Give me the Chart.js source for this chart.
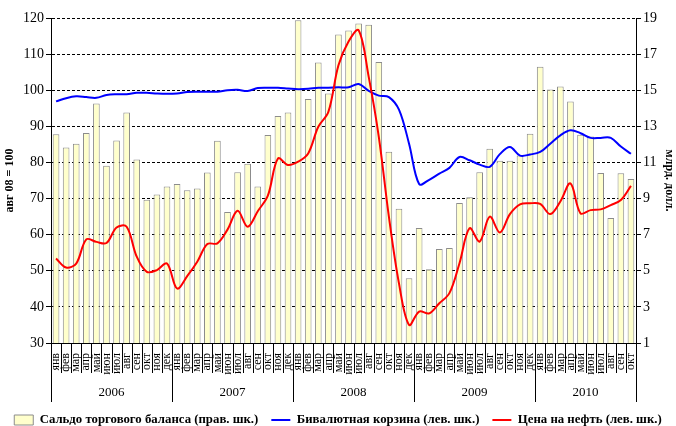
<!DOCTYPE html>
<html>
<head>
<meta charset="utf-8">
<script src="https://cdn.jsdelivr.net/npm/chart.js@4"></script>
<style>
  html, body { margin: 0; padding: 0; background: #fff; }
</style>
</head>
<body>
<div style="width:676px;height:426px"><canvas id="Chart" width="676" height="426"></canvas></div>
<script>
const months = ["янв","фев","мар","апр","май","июн","июл","авг","сен","окт","ноя","дек"];
const years = ["2006","2007","2008","2009","2010"];

// trade balance, bln USD (right scale)
const balance = [12.56, 11.83, 12.04, 12.63, 14.26, 10.82, 12.22, 13.76, 11.17, 8.94, 9.22, 9.67,
  9.81, 9.46, 9.56, 10.44, 12.2, 8.26, 10.46, 10.93, 9.67, 12.52, 13.57, 13.76,
  18.87, 14.52, 16.54, 14.82, 18.09, 18.31, 18.7, 18.63, 16.57, 11.59, 8.44, 4.59,
  7.37, 5.09, 6.2, 6.26, 8.76, 9.07, 10.46, 11.76, 11.1, 11.1, 11.39, 12.59,
  16.3, 15.04, 15.2, 14.37, 12.54, 12.44, 10.41, 7.93, 10.4, 10.09];

// dual-currency basket, aug 08 = 100 (left scale)
const basket = [96.9, 97.8, 98.3, 98.1, 97.9, 98.7, 98.9, 98.9, 99.3, 99.3, 99.1, 99.0,
  99.1, 99.5, 99.6, 99.6, 99.6, 100.0, 100.1, 99.8, 100.6, 100.7, 100.7, 100.5,
  100.3, 100.4, 100.7, 100.7, 100.8, 100.8, 101.7, 99.8, 98.5, 98.1, 94.6, 85.2,
  74.0, 75.2, 76.9, 78.5, 81.5, 80.6, 79.4, 78.8, 82.3, 84.3, 81.9, 82.2,
  82.9, 85.2, 87.5, 88.9, 88.1, 86.8, 86.8, 86.8, 84.4, 82.4];

// oil price, aug 08 = 100 (left scale)
const oil = [53.4, 50.9, 52.0, 58.7, 58.0, 57.7, 62.0, 62.2, 53.9, 49.7, 50.2, 52.0,
  45.1, 48.5, 52.5, 57.4, 57.6, 61.4, 66.6, 62.2, 66.5, 70.8, 81.1, 79.3,
  80.2, 82.5, 89.9, 94.0, 106.9, 113.5, 116.6, 103.7, 87.1, 65.0, 46.5, 35.0,
  38.7, 38.2, 41.0, 43.8, 52.1, 61.8, 58.1, 65.0, 60.6, 65.7, 68.4, 68.7,
  68.5, 65.7, 69.2, 74.2, 65.9, 66.8, 67.0, 68.2, 69.6, 73.5];

const leftMin = 30, leftMax = 120, leftStep = 10;
const rightMin = 1, rightMax = 19, rightStep = 2;

const labels = balance.map((v, i) => months[i % 12]);

const serif = "'Liberation Serif', 'Times New Roman', serif";

// month / year separators under the x axis
const yearRows = {
  id: "yearRows",
  afterDraw(chart) {
    const x = chart.scales.x, ctx = chart.ctx;
    const n = labels.length, w = x.width / n, top = x.top;
    ctx.save();
    ctx.strokeStyle = "#000";
    ctx.lineWidth = 1;
    for (let j = 0; j <= n; j++) {
      const px = Math.round(x.left + j * w) + 0.5;
      const len = (j % 12 === 0 || j === n) ? 59 : 30;
      ctx.beginPath();
      ctx.moveTo(px, top);
      ctx.lineTo(px, top + len);
      ctx.stroke();
    }
    ctx.fillStyle = "#000";
    ctx.font = "13px " + serif;
    ctx.textAlign = "center";
    ctx.textBaseline = "middle";
    years.forEach((yr, k) => {
      const a = k * 12, b = Math.min(n, a + 12);
      ctx.fillText(yr, x.left + (a + b) / 2 * w, top + 50);
    });
    ctx.restore();
  }
};

new Chart("Chart", {
  type: "bar",
  data: {
    labels: labels,
    datasets: [{
      type: "bar",
      label: "Сальдо торгового баланса (прав. шк.)",
      data: balance,
      yAxisID: "y1",
      backgroundColor: "#FFFFCC",
      borderColor: "#8C8C8C",
      borderWidth: 1,
      barPercentage: 0.66,
      categoryPercentage: 1,
      order: 2
    }, {
      type: "line",
      label: "Бивалютная корзина (лев. шк.)",
      data: basket,
      yAxisID: "y",
      borderColor: "#0000FF",
      borderWidth: 2,
      pointRadius: 0,
      tension: 0.35,
      fill: false,
      order: 1
    }, {
      type: "line",
      label: "Цена на нефть (лев. шк.)",
      data: oil,
      yAxisID: "y",
      borderColor: "#FF0000",
      borderWidth: 2,
      pointRadius: 0,
      tension: 0.35,
      fill: false,
      order: 0
    }]
  },
  options: {
    responsive: false,
    animation: false,
    layout: { padding: { top: 18, left: 0, right: 0, bottom: -10.4 } },
    plugins: {
      tooltip: { enabled: false },
      legend: {
        position: "bottom",
        labels: {
          usePointStyle: true,
          pointStyleWidth: 19,
          boxHeight: 10,
          padding: 13,
          color: "#000",
          font: { family: serif, size: 12.8, weight: "bold" },
          generateLabels: () => [
            { text: "Сальдо торгового баланса (прав. шк.)", fillStyle: "#FFFFCC", strokeStyle: "#8C8C8C", lineWidth: 1, pointStyle: "rect", datasetIndex: 0 },
            { text: "Бивалютная корзина (лев. шк.)", fillStyle: "#0000FF", strokeStyle: "#0000FF", lineWidth: 2, pointStyle: "line", datasetIndex: 1 },
            { text: "Цена на нефть (лев. шк.)", fillStyle: "#FF0000", strokeStyle: "#FF0000", lineWidth: 2, pointStyle: "line", datasetIndex: 2 }
          ]
        }
      }
    },
    scales: {
      x: {
        grid: { display: false },
        border: { display: true, color: "#000", width: 1 },
        ticks: {
          color: "#000",
          font: { family: serif, size: 12 },
          maxRotation: 90,
          minRotation: 90,
          autoSkip: false,
          padding: 2
        },
        afterFit: s => { s.height = 57.6; }
      },
      y: {
        position: "left",
        min: leftMin,
        max: leftMax,
        ticks: { stepSize: leftStep, color: "#000", font: { family: serif, size: 14 }, padding: 2 },
        grid: { color: "#000", tickColor: "#000", tickLength: 5, lineWidth: 1 },
        border: { display: true, color: "#000", width: 1, dash: [3, 2] },
        title: { display: true, text: "авг 08 = 100", color: "#000", font: { family: serif, size: 12, weight: "bold" }, padding: { top: 3, bottom: 0 } },
        afterFit: s => { s.width = 51; }
      },
      y1: {
        position: "right",
        min: rightMin,
        max: rightMax,
        ticks: { stepSize: rightStep, color: "#000", font: { family: serif, size: 14 }, padding: 2 },
        grid: { drawOnChartArea: false, tickColor: "#000", tickLength: 5 },
        border: { display: true, color: "#000", width: 1 },
        title: { display: true, text: "млрд. долл.", color: "#000", font: { family: serif, size: 12, weight: "bold" }, padding: 0 },
        afterFit: s => { s.width = 40; }
      }
    }
  },
  plugins: [yearRows]
});
</script>
</body>
</html>
